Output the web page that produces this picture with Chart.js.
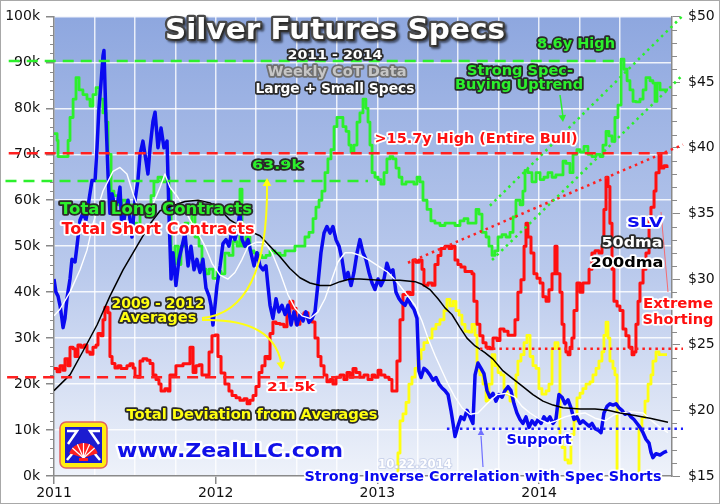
<!DOCTYPE html>
<html>
<head>
<meta charset="utf-8">
<script src="https://cdn.jsdelivr.net/npm/chart.js@4.4.0/dist/chart.umd.min.js"></script>
<style>
html, body { margin: 0; padding: 0; background: #fff; }
canvas { display: block; }
</style>
</head>
<body>
<canvas id="cot" width="720" height="504"></canvas>
<script>
// weekly CoT totals (thousands of contracts), x in decimal years
var longYears = [2011,2011.019,2011.025,2011.074,2011.087,2011.099,2011.118,2011.136,2011.155,2011.179,2011.204,2011.223,2011.241,2011.26,2011.284,2011.303,2011.322,2011.334,2011.353,2011.371,2011.396,2011.421,2011.445,2011.47,2011.489,2011.513,2011.532,2011.557,2011.575,2011.6,2011.618,2011.643,2011.668,2011.693,2011.711,2011.724,2011.748,2011.767,2011.785,2011.81,2011.829,2011.853,2011.872,2011.897,2011.915,2011.94,2011.959,2011.983,2012.008,2012.033,2012.057,2012.082,2012.107,2012.132,2012.15,2012.163,2012.187,2012.212,2012.237,2012.262,2012.286,2012.311,2012.336,2012.367,2012.398,2012.429,2012.459,2012.49,2012.521,2012.552,2012.577,2012.602,2012.62,2012.639,2012.657,2012.676,2012.694,2012.713,2012.732,2012.75,2012.769,2012.787,2012.806,2012.824,2012.837,2012.855,2012.874,2012.892,2012.911,2012.929,2012.942,2012.954,2012.967,2012.985,2013.004,2013.022,2013.041,2013.059,2013.078,2013.096,2013.115,2013.134,2013.152,2013.177,2013.202,2013.226,2013.245,2013.263,2013.282,2013.307,2013.331,2013.356,2013.387,2013.418,2013.449,2013.48,2013.511,2013.536,2013.56,2013.585,2013.61,2013.628,2013.647,2013.672,2013.69,2013.709,2013.727,2013.746,2013.771,2013.795,2013.82,2013.839,2013.857,2013.882,2013.9,2013.913,2013.931,2013.956,2013.981,2014.006,2014.03,2014.055,2014.08,2014.104,2014.129,2014.148,2014.166,2014.191,2014.21,2014.234,2014.253,2014.278,2014.302,2014.327,2014.352,2014.377,2014.395,2014.414,2014.432,2014.451,2014.469,2014.488,2014.507,2014.525,2014.544,2014.562,2014.581,2014.599,2014.624,2014.643,2014.661,2014.686,2014.704,2014.717,2014.729,2014.748,2014.772,2014.797];
var longK = [74.5,73,69.5,69.5,73,78,82,86.7,84,83,82,80.5,83,84.5,82,79,77,70,62,61,59,60,58.5,59,55,54,58,58.5,57.5,61,64,65,64,65,62,46,50,46,50,55,54,57,52,50,45,44,45,43,44.5,44,48.5,48,51,50,62.4,50,52,49,48.5,48,47.5,48,49,48.5,48,49,49,50,50,52,53,56,58.5,60,62,66,69,71,76,78,78,76,75,72,70.5,72,77,79,82,80,77,72,66,65,64.5,63.5,66,69,69.5,69,67,65,63.5,64,64,63.5,65,64,60,58,55.5,55,54.5,55,55,54.5,55.5,56,55,55,58,57,53,52,50,48,49,52,52.5,52,53,56.4,60,59,62,66.5,66,64,66,64.5,65,66,65,65.5,65.5,68.5,68,66,70,71,70.5,71.7,70,69.5,70,69.5,72,75,74,72.8,78,80.7,90.7,88.5,86,84,81.5,81.4,82,84,86.7,86,85.5,81.5,85.5,84,84,84];

var shortYears = [2011,2011.019,2011.037,2011.056,2011.068,2011.087,2011.099,2011.118,2011.13,2011.148,2011.167,2011.186,2011.204,2011.223,2011.241,2011.26,2011.272,2011.291,2011.303,2011.315,2011.334,2011.346,2011.359,2011.377,2011.396,2011.414,2011.433,2011.451,2011.47,2011.489,2011.501,2011.519,2011.532,2011.55,2011.575,2011.594,2011.612,2011.631,2011.649,2011.662,2011.686,2011.705,2011.717,2011.736,2011.754,2011.779,2011.798,2011.823,2011.841,2011.86,2011.878,2011.897,2011.915,2011.94,2011.959,2011.977,2011.996,2012.014,2012.033,2012.057,2012.082,2012.101,2012.126,2012.15,2012.175,2012.194,2012.212,2012.231,2012.249,2012.268,2012.286,2012.305,2012.323,2012.336,2012.354,2012.373,2012.398,2012.422,2012.441,2012.459,2012.478,2012.497,2012.521,2012.546,2012.571,2012.596,2012.614,2012.633,2012.651,2012.67,2012.688,2012.707,2012.725,2012.744,2012.769,2012.793,2012.812,2012.831,2012.849,2012.868,2012.892,2012.917,2012.942,2012.967,2012.985,2013.004,2013.022,2013.047,2013.072,2013.09,2013.109,2013.121,2013.14,2013.158,2013.183,2013.202,2013.22,2013.239,2013.257,2013.276,2013.288,2013.313,2013.338,2013.356,2013.375,2013.393,2013.418,2013.443,2013.461,2013.48,2013.498,2013.517,2013.542,2013.566,2013.585,2013.597,2013.616,2013.634,2013.653,2013.672,2013.696,2013.715,2013.74,2013.758,2013.783,2013.808,2013.832,2013.851,2013.869,2013.888,2013.907,2013.919,2013.931,2013.95,2013.968,2013.987,2014.006,2014.024,2014.043,2014.061,2014.08,2014.098,2014.111,2014.129,2014.142,2014.154,2014.166,2014.179,2014.191,2014.203,2014.216,2014.234,2014.253,2014.271,2014.29,2014.309,2014.327,2014.346,2014.37,2014.389,2014.401,2014.414,2014.426,2014.438,2014.451,2014.463,2014.482,2014.5,2014.519,2014.537,2014.556,2014.575,2014.587,2014.599,2014.612,2014.624,2014.643,2014.661,2014.68,2014.692,2014.711,2014.723,2014.742,2014.754,2014.772,2014.791];
var shortK = [23.4,22.7,24,23,25.5,24,28,27.7,26,28.5,28,28.5,27,26.5,28,28.5,31,30.5,34,36.7,35.5,26,24.5,23.5,24,23.4,23.4,24,24.4,23.5,21.7,21.5,25,25.5,25.2,24.5,22,21,20,18.5,19,18.5,22,22,24,24,24.4,24.4,28,22.5,24,24.2,22,22,27,30.5,30.7,26,22.4,20,18.5,17.5,17,16.5,16.8,15.7,16.5,17.5,19.5,22.5,24,26,25.5,31,33.5,33.2,33,32.5,35.6,38,36.5,33,35,35.5,34,33.5,30,26,24,22,20.5,21,20,21.5,22,21,22.5,21.5,23.4,22.5,21.5,22,21,22,21.5,23,22,21.5,21,18.5,18.5,25,34,39.5,40,39.5,47,46.5,47,45,41.5,42,41.5,46,48,49.5,50,49.5,50,47,46,45.5,44.5,44.5,44,38,33,30.5,29,28,27.7,30,29.5,32,31.5,30.6,30.6,34,40,42.7,50,55,52,48.5,44,43,42,39,38,40.5,44,50,44,40,33,29,27,26.4,28,30,36,42,40,42,42,45,48.5,49,48.5,50,58,65,63,55,45,38,37,36,32,30.5,28,26.4,27,33,38,42,45,48.5,56,58.5,62,66,70,67,67.5,67];

// SLV price and its moving averages ($)
var slvYears = [2011,2011.012,2011.025,2011.037,2011.049,2011.056,2011.068,2011.08,2011.099,2011.111,2011.13,2011.142,2011.161,2011.179,2011.198,2011.216,2011.235,2011.254,2011.266,2011.278,2011.291,2011.303,2011.309,2011.322,2011.334,2011.346,2011.359,2011.377,2011.396,2011.408,2011.421,2011.439,2011.458,2011.47,2011.482,2011.501,2011.519,2011.532,2011.55,2011.569,2011.581,2011.594,2011.612,2011.625,2011.643,2011.662,2011.68,2011.699,2011.711,2011.724,2011.736,2011.754,2011.773,2011.792,2011.81,2011.829,2011.847,2011.866,2011.884,2011.903,2011.921,2011.94,2011.959,2011.971,2011.983,2011.996,2012.008,2012.027,2012.045,2012.064,2012.082,2012.101,2012.119,2012.138,2012.15,2012.163,2012.181,2012.2,2012.218,2012.237,2012.255,2012.274,2012.293,2012.311,2012.323,2012.336,2012.354,2012.373,2012.391,2012.41,2012.429,2012.447,2012.466,2012.484,2012.503,2012.521,2012.54,2012.558,2012.577,2012.596,2012.614,2012.633,2012.651,2012.67,2012.688,2012.707,2012.725,2012.744,2012.763,2012.781,2012.8,2012.818,2012.837,2012.855,2012.874,2012.892,2012.911,2012.929,2012.948,2012.967,2012.985,2013.004,2013.022,2013.041,2013.059,2013.078,2013.096,2013.115,2013.134,2013.152,2013.171,2013.189,2013.208,2013.226,2013.245,2013.257,2013.27,2013.288,2013.307,2013.325,2013.344,2013.362,2013.381,2013.4,2013.418,2013.437,2013.455,2013.468,2013.48,2013.498,2013.517,2013.536,2013.554,2013.573,2013.591,2013.604,2013.622,2013.641,2013.659,2013.678,2013.696,2013.715,2013.733,2013.752,2013.771,2013.789,2013.808,2013.826,2013.845,2013.863,2013.882,2013.9,2013.919,2013.938,2013.956,2013.975,2013.993,2014.012,2014.03,2014.049,2014.067,2014.086,2014.104,2014.123,2014.142,2014.16,2014.179,2014.197,2014.216,2014.234,2014.253,2014.271,2014.29,2014.309,2014.327,2014.346,2014.364,2014.383,2014.401,2014.42,2014.438,2014.457,2014.476,2014.494,2014.513,2014.531,2014.55,2014.568,2014.587,2014.606,2014.624,2014.643,2014.661,2014.68,2014.692,2014.704,2014.723,2014.748,2014.772,2014.791];
var slvPrice = [30,29,28.7,28,27,26.3,27,28.5,30,31.5,31.3,32.5,34.5,35,34.5,36,37.5,37.5,40,43,45,47,47.4,42,38,35,36.5,35.5,36,37,33.5,35,36,34.5,33.2,36,37.5,39.5,40.5,39,38,40,42,42.7,40,41.5,40,40.5,35,30,32,29.5,31.5,32.5,33.5,31,32.5,30.7,31.5,30.5,31.5,29.3,28.7,28,26.5,28,29.5,31,32.7,33,32.5,33.7,33,34,35.2,33,32.5,33,32,31,32,31,30.7,31,29.5,28,27,28.5,27.5,28,27.3,28,26.5,27.5,26.5,27.3,26.8,27.5,26.7,27,27.5,29.7,32,33.5,34,33.5,34,33,32.5,31.5,30,30.5,29.5,30.5,32,33,32,31.5,30.5,29.7,29.2,30,29.5,30,31.2,30.5,30.7,29,28.5,28.2,28,28.5,28,27.7,27,23,22.5,23.2,23,22.7,22.3,22.5,22,21.7,21.5,21.2,20,19,18,18.8,19.5,19.3,20,19.5,19,22.7,23.6,23.2,22.8,21.5,21,21.3,20.7,21.2,21,21.5,21.8,21.5,20.5,19.8,19.3,19,19.5,18.7,19.2,18.9,19.3,19,19.5,19.2,19.5,19,19.3,21.2,21,20.5,20.8,20.2,19.3,19.5,19,19.2,19,18.8,19,18.6,18.5,18.3,19.8,20.3,20.5,20.4,20.5,20.2,20,19.7,19.8,19.5,19.3,19,18.7,18.3,17.8,17.5,16.8,16.4,16.7,16.6,16.8,16.9];

var dma50Years = [2011,2011.037,2011.099,2011.161,2011.204,2011.241,2011.303,2011.365,2011.408,2011.451,2011.489,2011.532,2011.575,2011.612,2011.656,2011.686,2011.717,2011.761,2011.792,2011.841,2011.891,2011.934,2011.977,2012.027,2012.076,2012.119,2012.163,2012.2,2012.249,2012.305,2012.348,2012.398,2012.447,2012.49,2012.534,2012.583,2012.633,2012.676,2012.719,2012.756,2012.8,2012.843,2012.892,2012.942,2013.004,2013.066,2013.127,2013.189,2013.233,2013.276,2013.313,2013.356,2013.4,2013.437,2013.48,2013.523,2013.573,2013.622,2013.678,2013.74,2013.801,2013.851,2013.894,2013.944,2014.006,2014.055,2014.104,2014.16,2014.222,2014.284,2014.346,2014.408,2014.469,2014.562,2014.643,2014.698,2014.748,2014.797];
var dma50 = [27.2,27.7,29,30.7,32.2,34.2,36.7,38.2,38.5,38,36.5,35,35,35.7,37,38,37,36.3,35.7,34.5,33.5,32.5,31.2,30.3,30,30.5,31.5,32.5,32.8,32.8,32,30.5,28.8,27.8,27.2,27,27.5,28.5,30,31.3,32,32,31.8,31.5,31,30.5,29.7,28.7,28,26.8,25.5,24.2,23,22,21,20.2,19.7,19.8,20.5,21.2,21.3,21,20.3,19.8,19.3,19,19.2,19.5,19.7,19.8,19.4,19.2,19.7,19.9,19.8,19.2,18.7,18.3];

var dma200Years = [2011,2011.099,2011.179,2011.266,2011.346,2011.427,2011.513,2011.594,2011.656,2011.717,2011.81,2011.891,2011.965,2012.027,2012.088,2012.181,2012.274,2012.336,2012.398,2012.459,2012.521,2012.583,2012.645,2012.707,2012.769,2012.831,2012.892,2013.016,2013.14,2013.233,2013.276,2013.325,2013.375,2013.418,2013.461,2013.511,2013.554,2013.604,2013.665,2013.715,2013.777,2013.839,2013.9,2013.962,2014.024,2014.086,2014.148,2014.253,2014.346,2014.426,2014.5,2014.593,2014.686,2014.797];
var dma200 = [21.5,22.7,24.5,26.5,28.7,30.7,32.5,34.2,35.2,35.5,35.9,36,35.8,35.3,34.5,33.8,33.3,32.5,31.7,30.8,30.1,29.7,29.5,29.5,29.8,30,30,29.9,29.9,29.8,29.6,29.2,28.5,27.8,27.3,26.3,25.5,24.9,24.4,23.9,23,22.4,21.8,21.2,20.7,20.4,20.2,20.1,20.1,20,19.8,19.6,19.4,19.1];

// total deviation of longs and shorts from their 2009-2012 averages (thousands)
var devYears = [2013.115,2013.127,2013.14,2013.158,2013.177,2013.195,2013.214,2013.233,2013.251,2013.27,2013.288,2013.313,2013.338,2013.362,2013.387,2013.412,2013.43,2013.449,2013.468,2013.486,2013.505,2013.523,2013.542,2013.566,2013.585,2013.604,2013.616,2013.634,2013.653,2013.672,2013.69,2013.709,2013.727,2013.746,2013.764,2013.783,2013.801,2013.82,2013.839,2013.857,2013.869,2013.888,2013.907,2013.925,2013.944,2013.962,2013.981,2013.999,2014.018,2014.043,2014.061,2014.08,2014.098,2014.117,2014.129,2014.142,2014.16,2014.179,2014.197,2014.216,2014.234,2014.253,2014.271,2014.29,2014.315,2014.333,2014.352,2014.37,2014.389,2014.401,2014.414,2014.426,2014.438,2014.457,2014.469,2014.482,2014.605,2014.618,2014.636,2014.655,2014.674,2014.692,2014.704,2014.723,2014.742,2014.791];
var devK = [-2,5,12,13.5,16,20,21.5,23.4,25.5,27.5,29,30,32,33,34,36,38.4,37,38,36,35,33,31.5,31.3,33,30.6,23,22,20,16.3,20,26.4,24,22.5,22,19,17.8,16.3,17,22,25,26.4,29,30.6,26,24,23.4,19,17.8,18.5,20,27.7,29,27.7,8,6.2,3.5,2.8,9,12,17,18,19,20,20.5,22,23.4,25,27,30.6,33.5,30,25,23.4,22,-3,-3,10.5,12.7,16.3,20,22,25,27,26.4,26.4];

// reference levels and trend lines drawn on the chart
var longHighYears = [2010.72, 2014.469], longHighK = [90.3, 90.3];
var shortHighYears = [2010.72, 2014.822], shortHighK = [70.2, 70.2];
var longAvgYears = [2010.70, 2012.942], longAvgK = [64.2, 64.2];
var shortAvgYears = [2010.71, 2012.942], shortAvgK = [21.5, 21.5];
var upperTrendYears = [2013.696, 2014.89], upperTrendK = [58.8, 100.2];
var lowerTrendYears = [2013.709, 2014.89], lowerTrendK = [47, 87.3];
var shortTrendYears = [2013.189, 2014.89], shortTrendK = [46.4, 72.1];
var shortFloorYears = [2013.634, 2014.89], shortFloorPrice = [24.7, 24.7];
var supportYears = [2013.43, 2014.89], supportPrice = [18.6, 18.6];

var yearTicks = [2011, 2012, 2013, 2014];

function pts(xs, ys) {
	var out = [];
	for (var i = 0; i < xs.length; i++) out.push({x: xs[i], y: ys[i]});
	return out;
}

function series(xs, ys, color, width, axis, stepped) {
	return {
		data: pts(xs, ys), borderColor: color, backgroundColor: color,
		borderWidth: width, yAxisID: axis, stepped: stepped,
		pointRadius: 0, fill: false, borderJoinStyle: 'round'
	};
}

// guide line; arrows = rotation of the arrowhead at each end, or null
function guide(xs, ys, color, axis, dash, width, arrows) {
	return {
		data: pts(xs, ys), borderColor: color, borderWidth: width, borderDash: dash,
		yAxisID: axis, clip: false, fill: false,
		pointStyle: 'triangle',
		pointRadius: arrows.map(function(a) { return a === null ? 0 : 5; }),
		pointRotation: arrows.map(function(a) { return a === null ? 0 : a; }),
		pointBackgroundColor: color, pointBorderColor: color, pointBorderWidth: 1
	};
}

var GREEN = '#2cf02c', RED = '#ff1010', BLUE = '#0a0af0', YELLOW = '#ffff10';

function isYear(v) { return Math.abs(v - Math.round(v)) < 1e-6; }

var backdrop = {
	id: 'backdrop',
	beforeDraw: function(chart) {
		var ctx = chart.ctx, a = chart.chartArea;
		ctx.save();
		ctx.fillStyle = '#fff';
		ctx.fillRect(0, 0, chart.width, chart.height);
		var g = ctx.createLinearGradient(0, a.top, 0, a.bottom);
		g.addColorStop(0, '#8ea7df');
		g.addColorStop(0.55, '#b9c9ec');
		g.addColorStop(1, '#eef2fa');
		ctx.fillStyle = g;
		ctx.fillRect(a.left, a.top, a.right - a.left, a.bottom - a.top);
		ctx.restore();
	}
};

function arrowHead(ctx, x, y, ang, size) {
	ctx.save();
	ctx.translate(x, y);
	ctx.rotate(ang);
	ctx.beginPath();
	ctx.moveTo(0, 0);
	ctx.lineTo(-size, -size * 0.55);
	ctx.lineTo(-size, size * 0.55);
	ctx.closePath();
	ctx.fill();
	ctx.restore();
}

function label(ctx, txt, cx, base, w, size, fill, stroke, lw) {
	ctx.save();
	ctx.font = 'bold ' + size + 'px "DejaVu Sans"';
	var sx = w / ctx.measureText(txt).width;
	ctx.translate(cx, base);
	ctx.scale(sx, 1);
	ctx.textAlign = 'center';
	ctx.textBaseline = 'alphabetic';
	ctx.lineJoin = 'round';
	ctx.lineWidth = lw || 3;
	ctx.strokeStyle = stroke;
	ctx.strokeText(txt, 0, 0);
	ctx.fillStyle = fill;
	ctx.fillText(txt, 0, 0);
	ctx.restore();
}

var notes = {
	id: 'notes',
	afterDraw: function(chart) {
		var ctx = chart.ctx, y = chart.scales.y, y2 = chart.scales.y2;
		ctx.save();
		// minor ticks
		ctx.strokeStyle = '#8a8a8a';
		ctx.lineWidth = 1;
		for (var v = 2; v < 100; v += 2) {
			if (v % 10 === 0) continue;
			var py = Math.round(y.getPixelForValue(v)) + 0.5;
			ctx.beginPath(); ctx.moveTo(50, py); ctx.lineTo(54, py); ctx.stroke();
		}
		for (var p = 16; p < 50; p++) {
			if (p % 5 === 0) continue;
			var qy = Math.round(y2.getPixelForValue(p)) + 0.5;
			ctx.beginPath(); ctx.moveTo(672, qy); ctx.lineTo(677, qy); ctx.stroke();
		}

		// pointer arrows
		ctx.lineWidth = 1.5;
		ctx.strokeStyle = GREEN; ctx.fillStyle = GREEN;
		ctx.beginPath(); ctx.moveTo(560, 95); ctx.lineTo(563, 117); ctx.stroke();
		arrowHead(ctx, 563, 122, Math.PI / 2 - 0.1, 7);

		ctx.strokeStyle = YELLOW; ctx.fillStyle = YELLOW; ctx.lineWidth = 2;
		ctx.beginPath(); ctx.moveTo(202, 318); ctx.quadraticCurveTo(268, 312, 267, 186); ctx.stroke();
		arrowHead(ctx, 267, 178, -Math.PI / 2, 8);
		ctx.beginPath(); ctx.moveTo(202, 320); ctx.quadraticCurveTo(272, 318, 281, 362); ctx.stroke();
		arrowHead(ctx, 282, 370, Math.PI / 2 - 0.15, 8);

		ctx.strokeStyle = '#7070ff'; ctx.fillStyle = '#7070ff'; ctx.lineWidth = 1.2;
		ctx.beginPath(); ctx.moveTo(483, 467); ctx.lineTo(481, 436); ctx.stroke();
		arrowHead(ctx, 481, 429, -Math.PI / 2, 6);

		ctx.strokeStyle = 'rgba(255,90,90,0.85)'; ctx.lineWidth = 1;
		ctx.beginPath(); ctx.moveTo(661, 212); ctx.lineTo(668, 292); ctx.stroke();

		// logo
		ctx.fillStyle = '#ffee10';
		ctx.strokeStyle = '#e06060';
		ctx.lineWidth = 1.5;
		ctx.beginPath();
		if (ctx.roundRect) ctx.roundRect(60, 422, 47, 46, 6); else ctx.rect(60, 422, 47, 46);
		ctx.fill(); ctx.stroke();
		ctx.fillStyle = '#1c1cd0';
		ctx.fillRect(65, 427, 37, 36);
		ctx.strokeStyle = '#fff'; ctx.lineWidth = 2.5;
		ctx.beginPath();
		ctx.moveTo(67, 431); ctx.lineTo(77, 431); ctx.lineTo(68, 444);
		ctx.moveTo(100, 431); ctx.lineTo(90, 431); ctx.lineTo(99, 444);
		ctx.moveTo(67, 460); ctx.lineTo(77, 448); ctx.moveTo(100, 460); ctx.lineTo(90, 448);
		ctx.stroke();
		ctx.fillStyle = '#ff2020';
		ctx.beginPath(); ctx.moveTo(83.5, 458); ctx.arc(83.5, 458, 15, Math.PI * 1.1, Math.PI * 1.9); ctx.closePath(); ctx.fill();
		ctx.strokeStyle = '#fff'; ctx.lineWidth = 1.2;
		for (var k = 1; k < 6; k++) {
			var ang = Math.PI * (1.1 + 0.8 * k / 6);
			ctx.beginPath(); ctx.moveTo(83.5, 458); ctx.lineTo(83.5 + 15 * Math.cos(ang), 458 + 15 * Math.sin(ang)); ctx.stroke();
		}
		ctx.fillStyle = '#ff2020';
		ctx.fillRect(79, 458, 9, 3);
		ctx.restore();

		// texts
		ctx.save();
		ctx.shadowColor = 'rgba(0,0,0,0.45)'; ctx.shadowOffsetX = 2; ctx.shadowOffsetY = 2; ctx.shadowBlur = 2;
		label(ctx, 'Silver Futures Specs', 335, 39, 340, 29, '#ffffff', '#4a4a4a', 4.5);
		ctx.restore();
		var dark = '#2a2a2a', light = '#ffffff';
		label(ctx, '2011 - 2014', 335, 59, 95, 13, '#ffffff', dark, 3.5);
		label(ctx, 'Weekly CoT Data', 337, 76, 139, 14, '#c6c6c6', '#707070', 3.5);
		label(ctx, 'Large + Small Specs', 335, 93, 159, 14, '#ffffff', dark, 3.5);
		label(ctx, '8.6y High', 576, 48, 78, 14, GREEN, dark, 3.5);
		label(ctx, 'Strong Spec-', 520, 75, 106, 14, GREEN, dark, 3.5);
		label(ctx, 'Buying Uptrend', 519, 89, 128, 14, GREEN, dark, 3.5);
		label(ctx, '>15.7y High (Entire Bull)', 476, 143, 203, 14, RED, light, 3.5);
		label(ctx, '63.9k', 277, 169, 50, 13, GREEN, dark, 3.5);
		label(ctx, 'Total Long Contracts', 156, 214, 192, 15, GREEN, dark, 3.5);
		label(ctx, 'Total Short Contracts', 158, 234, 193, 15, RED, light, 3.5);
		label(ctx, '2009 - 2012', 158, 308, 93, 14, YELLOW, dark, 3.5);
		label(ctx, 'Averages', 158, 322, 77, 14, YELLOW, dark, 3.5);
		label(ctx, '21.5k', 291, 391, 48, 13, RED, light, 3.5);
		label(ctx, 'Total Deviation from Averages', 252, 419, 251, 14, YELLOW, dark, 3.5);
		label(ctx, 'www.ZealLLC.com', 230, 457, 226, 20, '#1010e8', light, 4.5);
		label(ctx, '10.22.2014', 415, 468, 74, 12, '#ffffff', 'rgba(190,200,230,0.7)', 2);
		label(ctx, 'Support', 539, 444, 65, 14, BLUE, light, 3.5);
		label(ctx, 'Strong Inverse Correlation with Spec Shorts', 483, 481, 357, 14, BLUE, light, 3.5);
		label(ctx, 'SLV', 645, 227, 36, 14, BLUE, light, 3.5);
		label(ctx, '50dma', 632, 247, 61, 14, '#ffffff', dark, 3.5);
		label(ctx, '200dma', 627, 267, 73, 14, '#000000', light, 3.5);
		label(ctx, 'Extreme', 678, 308, 70, 14, RED, light, 3.5);
		label(ctx, 'Shorting', 678, 324, 71, 14, RED, light, 3.5);

		ctx.save();
		ctx.strokeStyle = '#a8a8a8';
		ctx.lineWidth = 1;
		ctx.strokeRect(0.5, 0.5, chart.width - 1, chart.height - 1);
		ctx.restore();
	}
};

var tickFont = {family: 'DejaVu Sans', size: 14};

new Chart(document.getElementById('cot'), {
	type: 'line',
	data: {
		datasets: [
			guide(longHighYears, longHighK, GREEN, 'y', [11, 7], 2.5, [270, null]),
			guide(shortHighYears, shortHighK, '#ff2020', 'y', [11, 7], 2.5, [270, null]),
			guide(longAvgYears, longAvgK, GREEN, 'y', [11, 7], 2.5, [null, null]),
			guide(shortAvgYears, shortAvgK, '#ff2020', 'y', [11, 7], 2.5, [null, null]),
			guide(upperTrendYears, upperTrendK, GREEN, 'y', [2.5, 4], 2.5, [null, 45]),
			guide(lowerTrendYears, lowerTrendK, GREEN, 'y', [2.5, 4], 2.5, [null, 45]),
			guide(shortTrendYears, shortTrendK, '#ff2020', 'y', [2.5, 4], 2.5, [null, 70]),
			guide(shortFloorYears, shortFloorPrice, '#ff2020', 'y2', [2.5, 4], 2.5, [null, 90]),
			guide(supportYears, supportPrice, '#2020ff', 'y2', [2.5, 4], 2.5, [null, 90]),
			series(dma200Years, dma200, '#000000', 1.5, 'y2', false),
			series(dma50Years, dma50, '#ffffff', 1.4, 'y2', false),
			series(slvYears, slvPrice, BLUE, 3.5, 'y2', false),
			series(longYears, longK, GREEN, 2.8, 'y', true),
			series(shortYears, shortK, RED, 3, 'y', true),
			series(devYears, devK, YELLOW, 2.8, 'y', true)
		]
	},
	options: {
		responsive: false,
		animation: false,
		devicePixelRatio: 1,
		layout: {padding: {top: 10, left: 0, right: 0, bottom: 0}},
		plugins: {legend: {display: false}, tooltip: {enabled: false}},
		elements: {line: {tension: 0}, point: {radius: 0}},
		scales: {
			x: {
				type: 'linear', min: 2011, max: 2014.822,
				afterFit: function(s) { s.height = 28; },
				ticks: {
					stepSize: 0.25, autoSkip: false, maxRotation: 0, minRotation: 0,
					font: tickFont, color: '#111', padding: 1,
					callback: function(v) { return isYear(v) && yearTicks.indexOf(Math.round(v)) >= 0 ? String(Math.round(v)) : ''; }
				},
				grid: {
					color: 'rgba(255,255,255,0.8)', lineWidth: 1.5, tickLength: 8,
					tickColor: function(c) { return c.tick && isYear(c.tick.value) ? '#888' : 'rgba(0,0,0,0)'; }
				},
				border: {color: '#8a8a8a', width: 1.5}
			},
			y: {
				position: 'left', min: 0, max: 100,
				afterFit: function(s) { s.width = 54; },
				ticks: {stepSize: 10, font: tickFont, color: '#111', padding: 6,
					callback: function(v) { return v + 'k'; }},
				grid: {color: 'rgba(255,255,255,0.85)', lineWidth: 1.5, tickLength: 8, tickColor: '#888'},
				border: {color: '#8a8a8a', width: 1.5}
			},
			y2: {
				position: 'right', min: 15, max: 50,
				afterFit: function(s) { s.width = 48; },
				ticks: {stepSize: 5, font: tickFont, color: '#111', padding: 8,
					callback: function(v) { return '$' + v; }},
				grid: {drawOnChartArea: false, tickLength: 8, tickColor: '#888'},
				border: {color: '#8a8a8a', width: 1.5}
			}
		}
	},
	plugins: [backdrop, notes]
});
</script>
</body>
</html>
